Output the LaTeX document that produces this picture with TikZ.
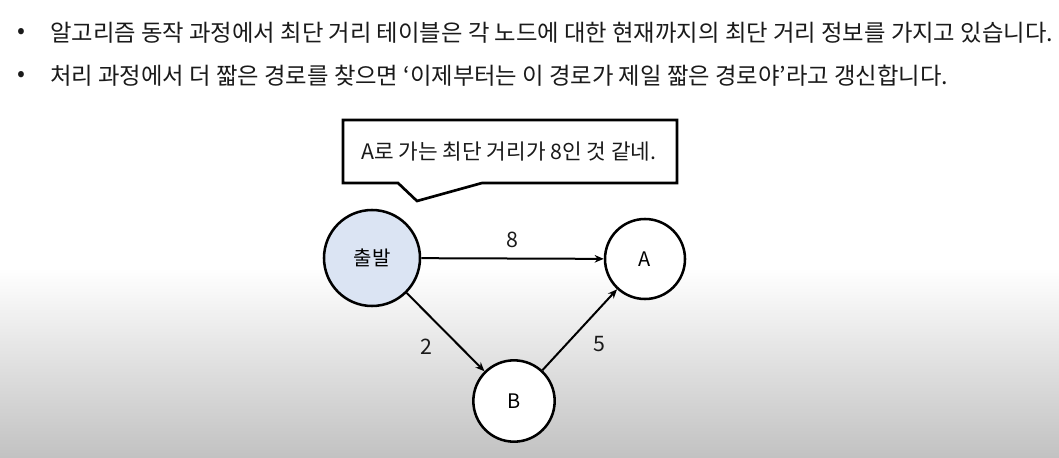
\documentclass[tikz,border=0pt]{standalone}
\usepackage{fontspec}
\setmainfont{Noto Sans CJK KR}
\usepackage{tikz}
\usetikzlibrary{arrows.meta,positioning}
\definecolor{startblue}{RGB}{219,228,243}
\definecolor{txtgray}{RGB}{26,26,26}
\definecolor{bggray}{RGB}{194,194,194}

\begin{document}
\begin{tikzpicture}[x=0.75pt,y=-0.75pt,
    vertex/.style={circle,draw=black,line width=1.9pt,fill=white,inner sep=0pt,font=\fontsize{15}{17}\selectfont},
    edge/.style={-{Stealth[length=2.4mm,width=2mm]},line width=1.5pt},
    weight/.style={font=\fontsize{16}{18}\selectfont,text=txtgray},
    bullettext/.style={anchor=west,inner sep=0pt,font=\fontsize{17.5}{19}\selectfont,text=txtgray}]
	\useasboundingbox (0,0) rectangle (1059,457);
    \fill[white] (0,0) rectangle (1059,457);
    \shade[top color=white,bottom color=bggray] (0,268) rectangle (1059,457);
    % bullets
    \node[bullettext] (dot1) at (17,33) {•};
    \node[bullettext] (line1) at (50,33) {알고리즘 동작 과정에서 최단 거리 테이블은 각 노드에 대한 현재까지의 최단 거리 정보를 가지고 있습니다.};
    \node[bullettext] (dot2) at (17,76) {•};
    \node[bullettext] (line2) at (50,76) {처리 과정에서 더 짧은 경로를 찾으면 ‘이제부터는 이 경로가 제일 짧은 경로야’라고 갱신합니다.};
    % speech bubble
    \draw[line width=2pt,fill=white,line join=miter] (343,120) -- (677,120) -- (677,183) -- (482,183)
        -- (417,201) -- (398,183) -- (343,183) -- cycle;
    \node[font=\fontsize{16}{18}\selectfont,text=txtgray] (say) at (509,152) {A로 가는 최단 거리가 8인 것 같네.};
    % graph
    \node[vertex,fill=startblue,minimum size=72pt] (start) at (372,258) {출발};
    \node[vertex,minimum size=60pt] (A) at (645,259) {A};
    \node[vertex,minimum size=61pt] (B) at (514,401) {B};
    \draw[edge] (start) -- node[weight,above=4pt] {8} (A);
    \draw[edge] (start) -- node[weight,below left=1pt and 6pt] {2} (B);
    \draw[edge] (B) -- node[weight,below right=1pt and 6pt] {5} (A);
\end{tikzpicture}
\end{document}
